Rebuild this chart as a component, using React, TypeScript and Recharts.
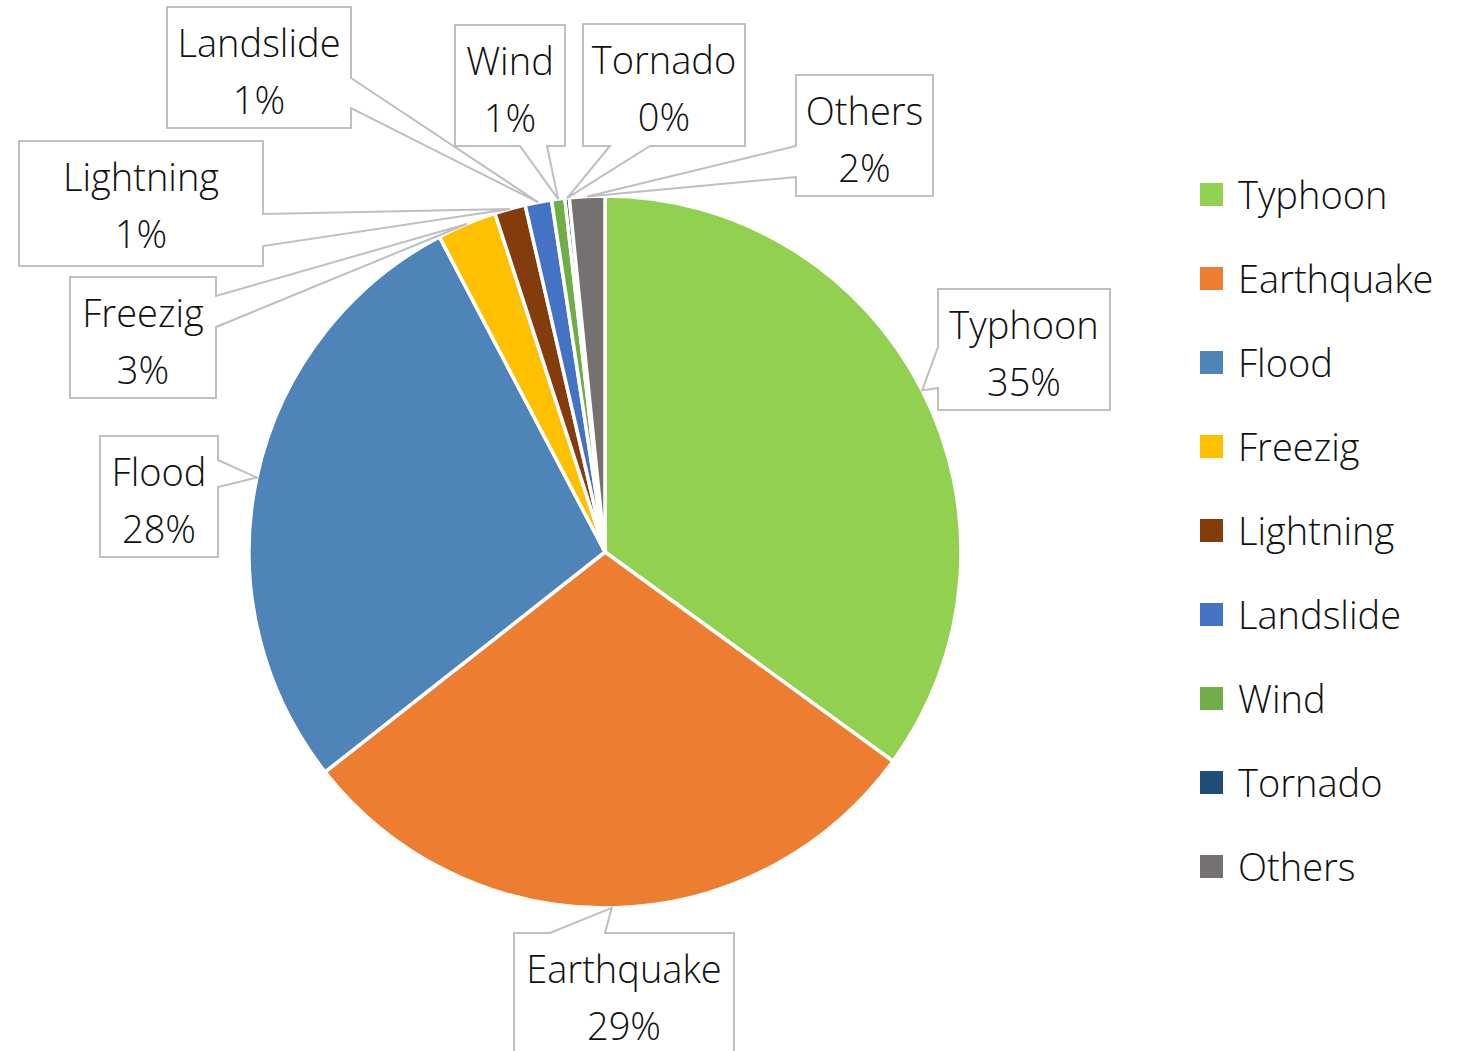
import React from 'react';
import { PieChart, Pie, Cell, Legend } from 'recharts';

// Share of disaster types (percent)
const CATEGORIES = ['Typhoon', 'Earthquake', 'Flood', 'Freezig', 'Lightning', 'Landslide', 'Wind', 'Tornado', 'Others'];
const SHARES = [35.0, 29.4, 27.9, 2.7, 1.4, 1.2, 0.6, 0.2, 1.6];
const COLORS = ['#92D050', '#ED7D31', '#4F84B8', '#FFC000', '#843C0C', '#4472C4', '#70AD47', '#1F4E79', '#767171'];

const FONT = "'Open Sans', 'Segoe UI', sans-serif";
const FONT_SIZE = 38;
const BORDER = '#BFBFBF';
const RAD = Math.PI / 180;

type Side = 'top' | 'right' | 'bottom' | 'left';
interface Callout {
  x: number;
  y: number;
  w: number;
  h: number;
  side: Side;
  a: number; // wedge base start along the side
  b: number; // wedge base end along the side
}

// Callout boxes, placed around the pie by hand like dragged data labels
const CALLOUTS: Record<string, Callout> = {
  Typhoon: { x: 938, y: 289, w: 172, h: 121, side: 'left', a: 347, b: 388 },
  Earthquake: { x: 514, y: 933, w: 220, h: 130, side: 'top', a: 550, b: 605 },
  Flood: { x: 100, y: 436, w: 118, h: 121, side: 'right', a: 460, b: 487 },
  Freezig: { x: 70, y: 277, w: 146, h: 121, side: 'right', a: 296, b: 327 },
  Lightning: { x: 19, y: 141, w: 244, h: 125, side: 'right', a: 214, b: 246 },
  Landslide: { x: 167, y: 7, w: 184, h: 121, side: 'right', a: 78, b: 108 },
  Wind: { x: 455, y: 25, w: 110, h: 121, side: 'bottom', a: 520, b: 547 },
  Tornado: { x: 583, y: 24, w: 162, h: 122, side: 'bottom', a: 610, b: 650 },
  Others: { x: 796, y: 75, w: 137, h: 121, side: 'left', a: 146, b: 177 },
};

const data = CATEGORIES.map((name, i) => ({ name, value: SHARES[i] }));

function calloutPath(c: Callout, tx: number, ty: number) {
  const { x, y, w, h, side, a, b } = c;
  const r = x + w;
  const btm = y + h;
  let pts: number[][];
  if (side === 'top') {
    pts = [[x, y], [a, y], [tx, ty], [b, y], [r, y], [r, btm], [x, btm]];
  } else if (side === 'right') {
    pts = [[x, y], [r, y], [r, a], [tx, ty], [r, b], [r, btm], [x, btm]];
  } else if (side === 'bottom') {
    pts = [[x, y], [r, y], [r, btm], [b, btm], [tx, ty], [a, btm], [x, btm]];
  } else {
    pts = [[x, y], [r, y], [r, btm], [x, btm], [x, b], [tx, ty], [x, a]];
  }
  return 'M' + pts.map((p) => p.join(',')).join('L') + 'Z';
}

const renderCallout = (props: any) => {
  const { cx, cy, midAngle, outerRadius, percent } = props;
  const name = props.name ?? props.payload?.name;
  const c = CALLOUTS[name];
  if (!c) return null;
  // tip of the wedge sits on the slice edge at its mid angle
  const tx = cx + outerRadius * Math.cos(-midAngle * RAD);
  const ty = cy + outerRadius * Math.sin(-midAngle * RAD);
  const mid = c.x + c.w / 2;
  return (
    <g key={`callout-${name}`}>
      <path d={calloutPath(c, tx, ty)} fill="#fff" stroke={BORDER} strokeWidth={2} />
      <text x={mid} y={c.y + 50} textAnchor="middle" fontFamily={FONT} fontWeight={300} fontSize={FONT_SIZE} fill="#111">
        {name}
      </text>
      <text x={mid} y={c.y + 107} textAnchor="middle" fontFamily={FONT} fontWeight={300} fontSize={FONT_SIZE} fill="#111">
        {`${Math.round(percent * 100)}%`}
      </text>
    </g>
  );
};

const renderLegend = () => (
  <div style={{ fontFamily: FONT, fontWeight: 300, fontSize: FONT_SIZE, color: '#111' }}>
    {CATEGORIES.map((name, i) => (
      <div key={name} style={{ display: 'flex', alignItems: 'center', height: 84 }}>
        <span style={{ width: 23, height: 23, background: COLORS[i], marginRight: 15, flex: 'none' }} />
        <span style={{ lineHeight: 1 }}>{name}</span>
      </div>
    ))}
  </div>
);

export default function App() {
  return (
    <div style={{ position: 'absolute', left: 0, top: 0, width: 1465, height: 1051, background: '#fff', overflow: 'hidden' }}>
      <PieChart width={1465} height={1051} margin={{ top: 0, right: 0, bottom: 0, left: 0 }}>
        <Pie
          data={data}
          dataKey="value"
          nameKey="name"
          cx={605}
          cy={552}
          outerRadius={356}
          startAngle={90}
          endAngle={-270}
          stroke="#fff"
          strokeWidth={3.5}
          label={renderCallout}
          labelLine={false}
          isAnimationActive={false}
        >
          {data.map((d, i) => (
            <Cell key={d.name} fill={COLORS[i]} />
          ))}
        </Pie>
        <Legend
          layout="vertical"
          verticalAlign="top"
          align="right"
          content={renderLegend}
          wrapperStyle={{ left: 1200, top: 152, width: 265 }}
        />
      </PieChart>
    </div>
  );
}
